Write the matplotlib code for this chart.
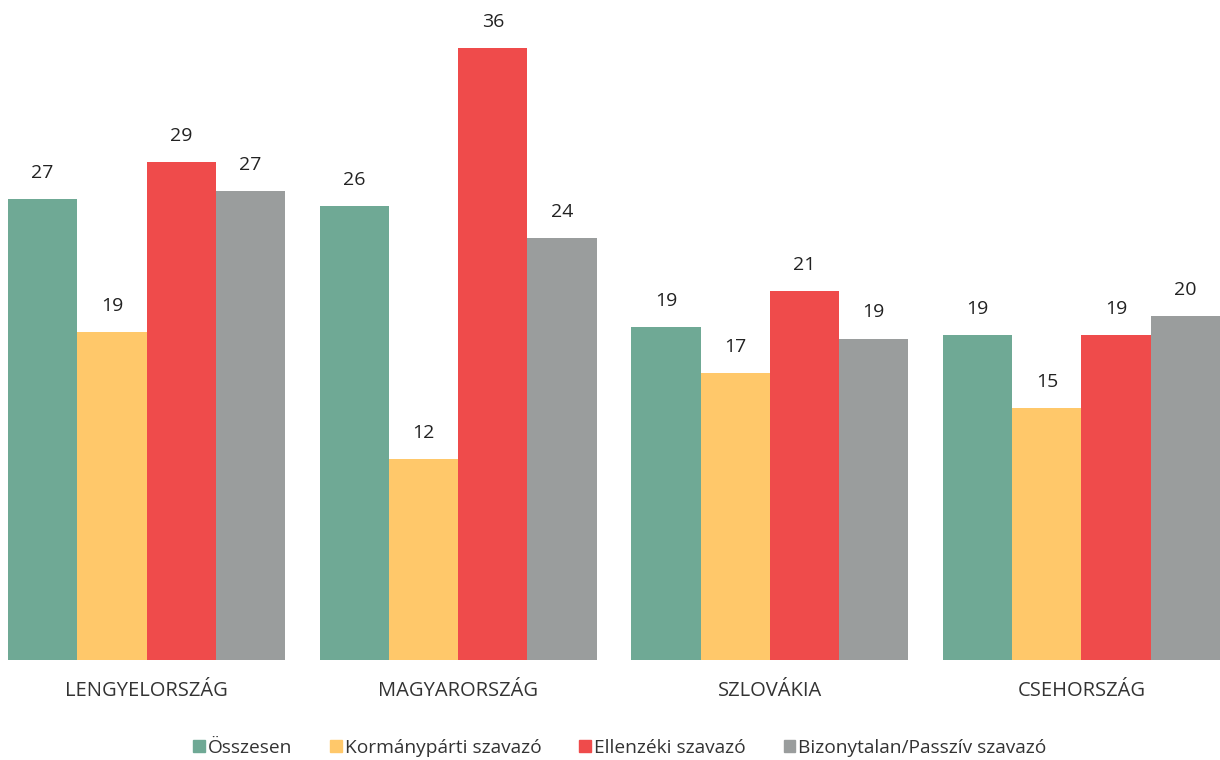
import numpy as np
import matplotlib.pyplot as plt
from matplotlib.patches import Patch

plt.rcParams['font.family'] = ['Open Sans', 'DejaVu Sans']

# DATA
countries = ["LENGYELORSZÁG", "MAGYARORSZÁG", "SZLOVÁKIA", "CSEHORSZÁG"]
series_names = ["Összesen", "Kormánypárti szavazó", "Ellenzéki szavazó",
                "Bizonytalan/Passzív szavazó"]
osszesen = [27.1, 26.7, 19.6, 19.1]
kormanyparti = [19.3, 11.8, 16.9, 14.8]
ellenzeki = [29.3, 36.0, 21.7, 19.1]
bizonytalan = [27.6, 24.8, 18.9, 20.2]
# labels as printed on the chart
osszesen_lbl = [27, 26, 19, 19]
kormanyparti_lbl = [19, 12, 17, 15]
ellenzeki_lbl = [29, 36, 21, 19]
bizonytalan_lbl = [27, 24, 19, 20]

colors = ["#6fa995", "#ffc86a", "#ef4b4b", "#9a9d9d"]

fig = plt.figure(figsize=(12.2, 7.6), dpi=100)
ax = fig.add_axes([8 / 1220, 100 / 760, 1 - 8 / 1220, 660 / 760])

x = np.arange(len(countries))
width = 0.2222
series = [osszesen, kormanyparti, ellenzeki, bizonytalan]
labels = [osszesen_lbl, kormanyparti_lbl, ellenzeki_lbl, bizonytalan_lbl]
for i, vals in enumerate(series):
    pos = x + (i - 1.5) * width
    ax.bar(pos, vals, width, color=colors[i], label=series_names[i])
    for px, v, lb in zip(pos, vals, labels[i]):
        ax.text(px, v + 1.0, str(lb), ha="center", va="bottom",
                fontsize=14, color="#222222")

ax.set_xlim(-2 * width, len(countries) - 1 + 2 * width)
ax.set_ylim(0, 38.8)
ax.set_xticks(x)
ax.set_xticklabels(countries, fontsize=14.5, color="#333333")
ax.tick_params(axis="x", length=0, pad=15)
ax.set_yticks([])
for s in ax.spines.values():
    s.set_visible(False)

handles = [Patch(color=c) for c in colors]
fig.legend(handles, series_names, loc="center", bbox_to_anchor=(0.508, 12 / 760),
           ncol=4, frameon=False, fontsize=13.8, handlelength=0.6,
           handleheight=0.6, handletextpad=0.15, columnspacing=2.0,
           labelcolor="#333333")

fig.savefig("out.png", dpi=100)
